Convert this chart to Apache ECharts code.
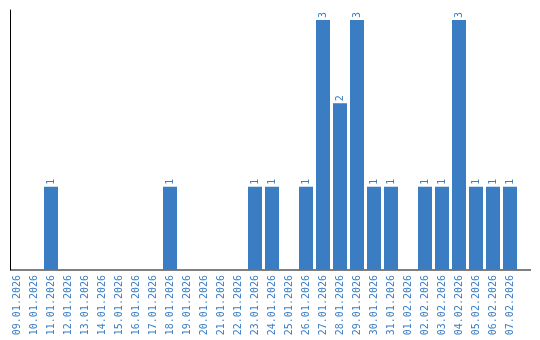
<!DOCTYPE html>
<html><head><meta charset="utf-8">
<script src="https://cdn.jsdelivr.net/npm/echarts@6/dist/echarts.min.js"></script>
<style>html,body{margin:0;padding:0;background:#fff}#c{width:540px;height:340px}</style>
</head><body><div id="c"></div>
<script>
var categories = ["09.01.2026","10.01.2026","11.01.2026","12.01.2026","13.01.2026","14.01.2026","15.01.2026","16.01.2026","17.01.2026","18.01.2026","19.01.2026","20.01.2026","21.01.2026","22.01.2026","23.01.2026","24.01.2026","25.01.2026","26.01.2026","27.01.2026","28.01.2026","29.01.2026","30.01.2026","31.01.2026","01.02.2026","02.02.2026","03.02.2026","04.02.2026","05.02.2026","06.02.2026","07.02.2026"];
var values = [0,0,1,0,0,0,0,0,0,1,0,0,0,0,1,1,0,1,3,2,3,1,1,0,1,1,3,1,1,1];
var blue = '#3b7dc2';
var chart = echarts.init(document.getElementById('c'));
chart.setOption({
  animation:false,
  grid:{left:8.5, top:10, width:510, height:260},
  xAxis:{type:'category', data:categories,
    axisLine:{show:false}, axisTick:{show:false},
    axisLabel:{interval:0, rotate:90, margin:5, color:blue, fontFamily:'DejaVu Sans Mono', fontSize:10}},
  yAxis:{type:'value', min:0, max:3.12, offset:-1.5,
    axisLine:{show:true, lineStyle:{color:'#000', width:1}},
    axisTick:{show:false}, axisLabel:{show:false}, splitLine:{show:false}},
  graphic:[{type:'line', shape:{x1:10, y1:270, x2:531, y2:270}, style:{stroke:'#000', lineWidth:1}}],
  series:[{type:'bar', data:values.map(function(v){return v===0?null:v;}), barWidth:14,
    itemStyle:{color:blue},
    label:{show:true, position:'top', rotate:90, align:'left', verticalAlign:'middle', distance:2,
      color:blue, fontFamily:'DejaVu Sans Mono', fontSize:10}}]
});
</script></body></html>
